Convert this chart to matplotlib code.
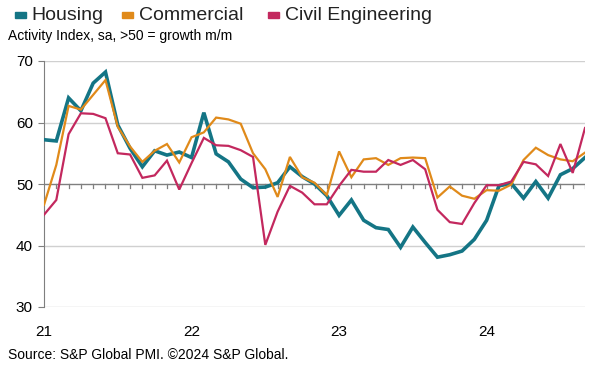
import numpy as np
import pandas as pd
import matplotlib
matplotlib.use("Agg")
import matplotlib.pyplot as plt
from matplotlib.patches import Rectangle

plt.rcParams['font.family'] = ['Liberation Sans', 'DejaVu Sans']

# monthly, Jan 2021 - Sep 2024
months = pd.date_range("2021-01-01", periods=45, freq="MS")

housing = [57.2, 57.0, 64.0, 61.9, 66.4, 68.2, 59.6, 55.8, 52.8, 55.4, 54.7, 55.2,
           54.3, 61.6, 54.9, 53.6, 50.8, 49.4, 49.5, 50.2, 52.8, 51.2, 50.0, 48.1,
           44.9, 47.4, 44.1, 42.9, 42.6, 39.7, 43.0, 40.5, 38.1, 38.5, 39.1, 41.0,
           44.1, 49.7, 50.1, 47.7, 50.4, 47.7, 51.5, 52.5, 54.3]
commercial = [46.6, 53.1, 62.7, 62.1, 64.5, 66.9, 59.3, 56.1, 53.6, 55.4, 56.5, 53.5,
              57.6, 58.4, 60.8, 60.5, 59.8, 55.0, 52.4, 47.9, 54.4, 51.1, 50.2, 48.2,
              55.3, 51.1, 54.0, 54.2, 53.1, 54.2, 54.3, 54.2, 47.8, 49.6, 48.1, 47.6,
              49.0, 48.9, 49.9, 53.9, 55.9, 54.7, 54.0, 53.7, 55.1]
civil = [45.0, 47.4, 58.1, 61.5, 61.4, 60.7, 55.0, 54.8, 51.0, 51.4, 53.8, 49.1,
         53.4, 57.5, 56.3, 56.2, 55.5, 54.4, 40.1, 45.5, 49.7, 48.6, 46.7, 46.7,
         49.7, 52.3, 52.0, 52.0, 53.9, 53.1, 53.9, 52.4, 45.8, 43.8, 43.5, 46.9,
         49.8, 49.8, 50.4, 53.6, 53.2, 51.3, 56.5, 51.8, 59.1]

names = ["Housing", "Commercial", "Civil Engineering"]
colors = ["#147585", "#e08a1a", "#c3285e"]
widths = [2.6, 1.6, 1.6]

W, H = 606, 367
fig = plt.figure(figsize=(W/100, H/100), dpi=100)
ax = fig.add_axes([44/W, 1 - 307/H, (585-44)/W, (307-61)/H])

x = np.arange(len(months))
for y, c, lw in zip([housing, commercial, civil], colors, widths):
    ax.plot(x, y, color=c, lw=lw, zorder=3, solid_joinstyle='miter')

ax.set_xlim(0, len(months) - 1)
ax.set_ylim(30, 70)
ax.set_yticks([30, 40, 50, 60, 70])
for v in [30, 40, 60, 70]:
    ax.axhline(v, color="#d0d0d0", lw=1.0, zorder=1)
ax.axhline(50, color="#7f7f7f", lw=1.0, zorder=2)
# month ticks on the 50 line
for i in x[1:]:
    ax.plot([i, i], [50, 49.35], color="#7f7f7f", lw=0.9, zorder=2)

for s in ["top", "right", "bottom"]:
    ax.spines[s].set_visible(False)
ax.spines["left"].set_color("#7f7f7f")
ax.tick_params(axis="y", length=4, color="#7f7f7f", labelsize=11, pad=4)
ax.tick_params(axis="x", length=0, labelsize=11, pad=13)
year_idx = [i for i, m in enumerate(months) if m.month == 1]
ax.set_xticks(year_idx)
ax.set_xticklabels([months[i].strftime("%y") for i in year_idx])

# legend drawn by hand
sq_x = [15, 122, 268]
txt_x = [31, 139, 285]
for sx, tx, c, n in zip(sq_x, txt_x, colors, names):
    fig.patches.append(Rectangle((sx/W, 1 - 18/H), 11/W, 6/H, color=c,
                                 transform=fig.transFigure, figure=fig))
    fig.text(tx/W, 1 - 15/H, n, fontsize=14, va="center", ha="left", color="#222222")

fig.text(8/W, 1 - 36/H, "Activity Index, sa, >50 = growth m/m", fontsize=10,
         va="center", ha="left")
fig.text(8/W, 1 - 355/H, "Source: S&P Global PMI. \u00a92024 S&P Global.", fontsize=10,
         va="center", ha="left")

fig.savefig("out.png", dpi=100)
